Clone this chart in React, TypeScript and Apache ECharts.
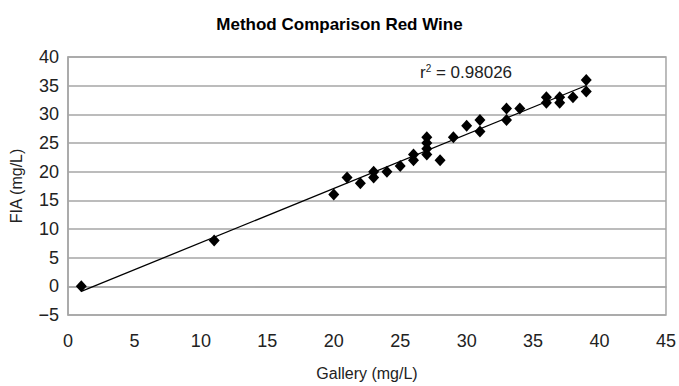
import React, { useEffect, useRef } from "react";
import * as echarts from "echarts";

const galleryValues = [1, 11, 20, 21, 22, 23, 23, 24, 25, 26, 26, 27, 27, 27, 27, 28, 29, 30, 31, 31, 33, 33, 34, 36, 36, 37, 37, 38, 39, 39];
const fiaValues = [0, 8, 16, 19, 18, 19, 20, 20, 21, 22, 23, 23, 24, 25, 26, 22, 26, 28, 27, 29, 29, 31, 31, 32, 33, 32, 33, 33, 34, 36];
const titleText = "Method Comparison Red Wine";
const xName = "Gallery (mg/L)";
const yName = "FIA (mg/L)";
const r2Text = "0.98026";

export default function App() {
  const ref = useRef<HTMLDivElement>(null);
  useEffect(() => {
    if (!ref.current) return;
    document.body.style.margin = "0";
    const chart = echarts.init(ref.current, undefined, { renderer: "svg" });
    const pts = galleryValues.map((x, i) => [x, fiaValues[i]]);
    const n = pts.length;
    const mx = galleryValues.reduce((a, b) => a + b, 0) / n;
    const my = fiaValues.reduce((a, b) => a + b, 0) / n;
    let sxy = 0, sxx = 0;
    for (let i = 0; i < n; i++) {
      sxy += (galleryValues[i] - mx) * (fiaValues[i] - my);
      sxx += (galleryValues[i] - mx) ** 2;
    }
    const slope = sxy / sxx;
    const intercept = my - slope * mx;
    const xmin = Math.min(...galleryValues);
    const xmax = Math.max(...galleryValues);
    const trend = [
      [xmin, intercept + slope * xmin],
      [xmax, intercept + slope * xmax],
    ];
    const font = "'Liberation Sans', Arial, sans-serif";
    chart.setOption({
      animation: false,
      backgroundColor: "#ffffff",
      textStyle: { fontFamily: font },
      title: {
        text: titleText,
        left: "center",
        top: 11,
        textStyle: { fontFamily: font, fontSize: 17, fontWeight: "bold", color: "#000" },
      },
      grid: {
        left: 66,
        right: 13,
        top: 57,
        bottom: 67,
        show: true,
        borderColor: "#a6a6a6",
        borderWidth: 1.5,
      },
      xAxis: {
        type: "value",
        min: 0,
        max: 45,
        interval: 5,
        name: xName,
        nameLocation: "middle",
        nameGap: 50,
        nameTextStyle: { fontFamily: font, fontSize: 16, color: "#222" },
        axisLine: { show: true, lineStyle: { color: "#a6a6a6", width: 1.5 } },
        axisTick: { show: false },
        splitLine: { show: false },
        axisLabel: { fontFamily: font, fontSize: 18, color: "#222", margin: 17 },
      },
      yAxis: {
        type: "value",
        min: -5,
        max: 40,
        interval: 5,
        name: yName,
        nameLocation: "middle",
        nameGap: 44,
        nameTextStyle: { fontFamily: font, fontSize: 16, color: "#222" },
        axisLine: { show: true, lineStyle: { color: "#a6a6a6", width: 1.5 } },
        axisTick: { show: false },
        splitLine: { show: true, lineStyle: { color: "#a6a6a6", width: 1.5 } },
        axisLabel: {
          fontFamily: font,
          fontSize: 18,
          color: "#222",
          margin: 9,
          formatter: (v: number) => (v < 0 ? "\u2212" + Math.abs(v) : String(v)),
        },
      },
      graphic: [
        {
          type: "text",
          left: 420,
          top: 63,
          style: {
            text: "{r|r}{s|2}{r| = " + r2Text + "}",
            rich: {
              r: { fontFamily: font, fontSize: 17, fill: "#222" },
              s: { fontFamily: font, fontSize: 10, fill: "#222", verticalAlign: "top", padding: [0, 0, 8, 0] },
            },
          },
        },
      ],
      series: [
        {
          type: "line",
          data: trend,
          showSymbol: false,
          symbol: "none",
          lineStyle: { color: "#000", width: 1.3 },
          z: 3,
        },
        {
          type: "scatter",
          data: pts,
          symbol: "diamond",
          symbolSize: [11, 12],
          itemStyle: { color: "#000", opacity: 1 },
          z: 4,
        },
      ],
    });
    return () => chart.dispose();
  }, []);
  return <div ref={ref} style={{ width: 679, height: 386 }} />;
}
